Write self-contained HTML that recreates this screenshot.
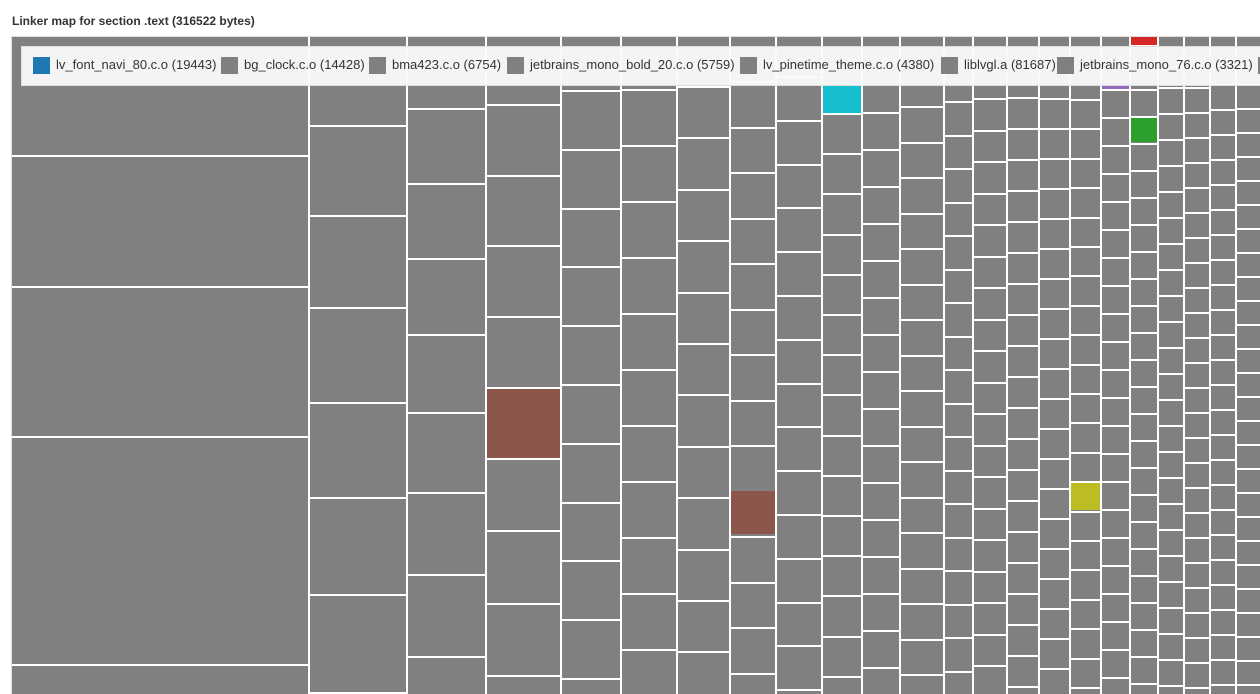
<!DOCTYPE html>
<html style="overflow:hidden"><head><meta charset="utf-8"><style>
html,body{margin:0;width:1260px;height:694px;overflow:hidden}
body{background:#fff;font-family:"Liberation Sans",sans-serif;position:relative}
#t{position:absolute;left:12px;top:14px;font-size:12px;font-weight:bold;color:#333}
#frame{position:absolute;left:11px;top:36px;width:1260px;height:670px;border:1px solid #ddd;background:#fff}
.c{position:absolute;background:#808080}
#lg{position:absolute;left:21px;top:46px;width:1250px;height:38px;background:rgba(250,250,250,0.95);border:1px solid #ddd;font-size:13px;color:#333;white-space:nowrap}
#lg span.s{display:inline-block;width:17px;height:17px;background:#808080;vertical-align:middle;margin:0 6px 0 0}
#lg .i{position:absolute;top:9px;line-height:17px}
</style></head><body>
<div id="t">Linker map for section .text (316522 bytes)</div>
<div id="frame"></div>
<div id="cells"></div>
<div id="lg">
<div class="i" style="left:11px"><span class="s" style="background:#1f77b4"></span>lv_font_navi_80.c.o (19443)</div>
<div class="i" style="left:199px"><span class="s"></span>bg_clock.c.o (14428)</div>
<div class="i" style="left:347px"><span class="s"></span>bma423.c.o (6754)</div>
<div class="i" style="left:485px"><span class="s"></span>jetbrains_mono_bold_20.c.o (5759)</div>
<div class="i" style="left:718px"><span class="s"></span>lv_pinetime_theme.c.o (4380)</div>
<div class="i" style="left:919px"><span class="s"></span>liblvgl.a (81687)</div>
<div class="i" style="left:1035px"><span class="s"></span>jetbrains_mono_76.c.o (3321)</div>
<div class="i" style="left:1236px"><span class="s"></span></div>
</div>
<script>
var cols=[
[12,308,[155,286,436,664]],
[310,406,[125,215,307,402,497,594,692]],
[408,485,[108,183,258,334,412,492,574,656]],
[487,560,[104,175,245,316,387,458,530,603,675]],
[562,620,90,58.8],[622,676,89,56],[678,729,86,51.4],[731,775,81,45.5],
[777,821,76,43.8],[823,861,[85,113],40.2],[863,899,112,37],[901,943,106,35.5],
[945,972,101,33.5],[974,1006,98,31.5],[1008,1038,97,31],[1040,1069,98,30],
[1071,1100,99,29.4],[1102,1129,89,28],[1131,1157,[45,89,116],27],[1159,1183,87,26],
[1185,1209,87,25],[1211,1235,84,25],[1237,1262,84,24]];
var h='';
function cell(x0,x1,y0,y1,col){h+='<div class="c" style="left:'+x0+'px;top:'+y0+'px;width:'+(x1-x0)+'px;height:'+(y1-y0)+'px'+(col?';background:'+col:'')+'"></div>';}
cols.forEach(function(c){
 var b=[];
 if(Array.isArray(c[2])){b=c[2].slice();if(c[3]){var y=b[b.length-1];while(y<700){y+=c[3];b.push(Math.round(y));}}}
 else{var y=c[2];while(y<700+c[3]){b.push(Math.round(y));y+=c[3];}}
 var top=37;
 b.forEach(function(e){cell(c[0],c[1],top,Math.min(e,700));top=e+2;});
 if(top<694)cell(c[0],c[1],top,700);
});
cell(487,560,389,458,'#8c564b');
cell(731,775,491,534,'#8c564b');
cell(823,861,86,113,'#17becf');
cell(1071,1100,483,510,'#bcbd22');
cell(1102,1129,82,89,'#9467bd');
cell(1131,1157,37,45,'#d62728');
cell(1131,1157,118,142,'#2ca02c');
document.getElementById('cells').innerHTML=h;
</script>
</body></html>
